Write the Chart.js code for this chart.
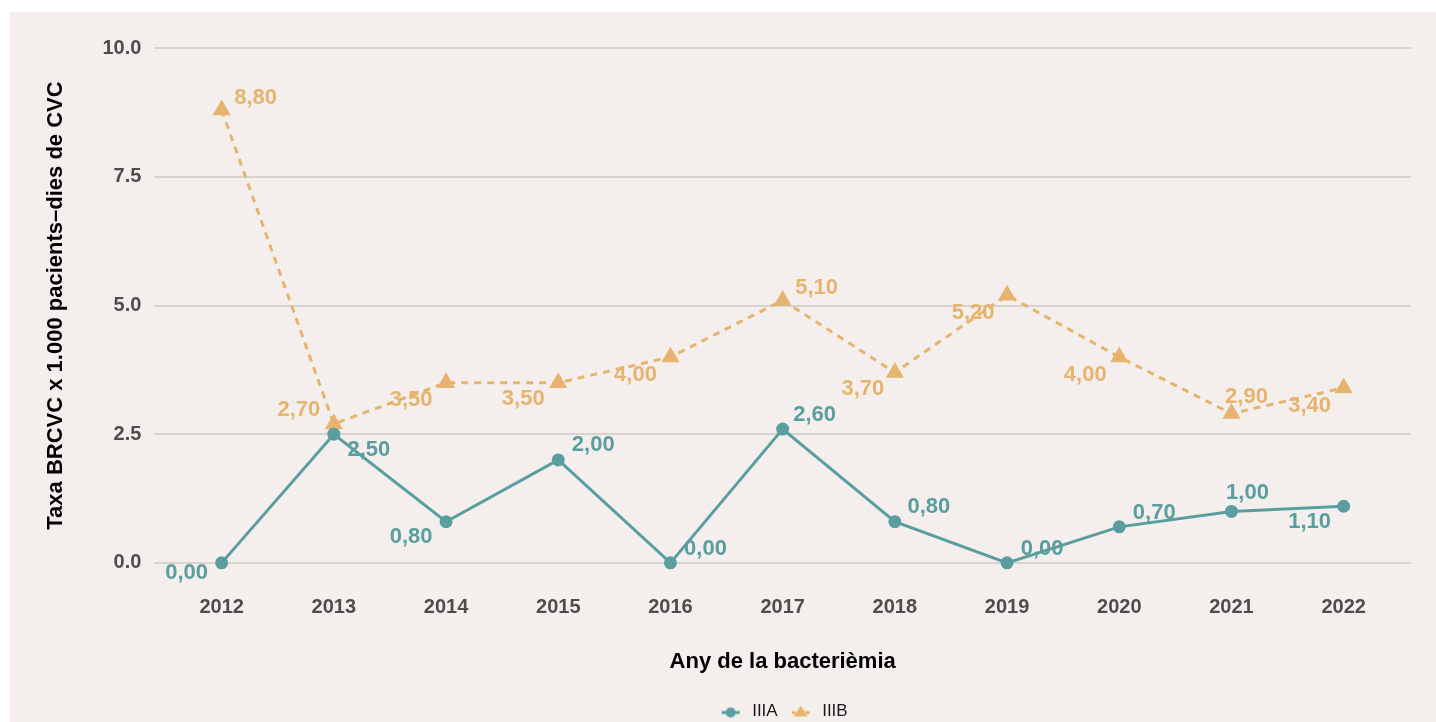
<!DOCTYPE html>
<html>
<head>
<meta charset="utf-8">
<script src="https://cdn.jsdelivr.net/npm/chart.js@4.4.1/dist/chart.umd.min.js"></script>
<style>
  html, body { margin: 0; padding: 0; background: #ffffff; overflow: hidden; }
  #panel { position: absolute; left: 10px; top: 12px; width: 1426px; height: 718px; background: #f4efec; }
</style>
</head>
<body>
<div id="panel"><canvas id="chart"></canvas></div>
<script>
// data
const years = [2012, 2013, 2014, 2015, 2016, 2017, 2018, 2019, 2020, 2021, 2022];
const seriesA = [0.00, 2.50, 0.80, 2.00, 0.00, 2.60, 0.80, 0.00, 0.70, 1.00, 1.10];
const seriesB = [8.80, 2.70, 3.50, 3.50, 4.00, 5.10, 3.70, 5.20, 4.00, 2.90, 3.40];
const yTicks = [0, 2.5, 5, 7.5, 10];

// where each value label sits relative to its point (px)
const labelOffsetsA = [[-35, 10], [35, 16], [-35, 15], [35, -15], [35, -14], [32, -14], [34, -15], [35, -14], [35, -14], [16, -18], [-34, 16]];
const labelOffsetsB = [[34, -12], [-35, -14], [-35, 17], [-35, 16], [-35, 18], [34, -12], [-32, 16], [-34, 18], [-34, 18], [15, -17], [-34, 18]];

const TEAL = '#5a9ea0';
const SAND = '#e6b46e';
const FONT = '"Liberation Sans", Arial, sans-serif';

// legend keys: line through a marker, like the original
function legendKey(color, shape, dashed) {
    const c = document.createElement('canvas');
    c.width = 20; c.height = 16;
    const g = c.getContext('2d');
    g.strokeStyle = color;
    g.fillStyle = color;
    g.lineWidth = 3;
    if (dashed) g.setLineDash([4, 3]);
    g.beginPath(); g.moveTo(1, 9); g.lineTo(19, 9); g.stroke();
    g.setLineDash([]);
    g.beginPath();
    if (shape === 'circle') {
        g.arc(10, 9, 5, 0, Math.PI * 2);
    } else {
        g.moveTo(10, 2); g.lineTo(17, 13); g.lineTo(3, 13); g.closePath();
    }
    g.fill();
    return c;
}

const valueLabels = {
    id: 'valueLabels',
    afterDatasetsDraw(chart) {
        const ctx = chart.ctx;
        ctx.save();
        ctx.font = 'bold 22px ' + FONT;
        ctx.textAlign = 'center';
        ctx.textBaseline = 'middle';
        chart.data.datasets.forEach((ds, i) => {
            const meta = chart.getDatasetMeta(i);
            const offs = ds.labelOffsets;
            ctx.fillStyle = ds.borderColor;
            meta.data.forEach((pt, j) => {
                const txt = ds.data[j].y.toFixed(2).replace('.', ',');
                ctx.fillText(txt, pt.x + offs[j][0], pt.y + offs[j][1]);
            });
        });
        ctx.restore();
    }
};

const toPoints = vals => vals.map((v, i) => ({ x: years[i], y: v }));

// no extra room for edge labels: the axes are expanded already
function noEdgePadding(scale) {
    scale.paddingTop = 0;
    scale.paddingBottom = 0;
    scale.paddingLeft = 0;
    scale.paddingRight = 0;
}

new Chart(document.getElementById('chart'), {
    type: 'line',
    data: {
        datasets: [
            {
                label: 'IIIA',
                data: toPoints(seriesA),
                borderColor: TEAL,
                backgroundColor: TEAL,
                borderWidth: 3,
                pointStyle: 'circle',
                pointRadius: 5,
                pointHoverRadius: 5,
                labelOffsets: labelOffsetsA,
                legendKey: legendKey(TEAL, 'circle', false)
            },
            {
                label: 'IIIB',
                data: toPoints(seriesB),
                borderColor: SAND,
                backgroundColor: SAND,
                borderWidth: 3,
                borderDash: [7, 6],
                pointStyle: 'triangle',
                pointRadius: 7.5,
                pointHoverRadius: 7.5,
                labelOffsets: labelOffsetsB,
                legendKey: legendKey(SAND, 'triangle', true)
            }
        ]
    },
    options: {
        responsive: true,
        maintainAspectRatio: false,
        animation: false,
        layout: { padding: { left: 20, right: 25, top: 10, bottom: 0 } },
        plugins: {
            tooltip: { enabled: false },
            legend: {
                position: 'bottom',
                fullSize: false,
                labels: {
                    usePointStyle: true,
                    pointStyleWidth: 26,
                    color: '#1a1a1a',
                    font: { family: FONT, size: 17 },
                    padding: 10,
                    generateLabels(chart) {
                        return chart.data.datasets.map((ds, i) => ({
                            text: ds.label,
                            pointStyle: ds.legendKey,
                            fillStyle: ds.borderColor,
                            strokeStyle: ds.borderColor,
                            fontColor: '#1a1a1a',
                            lineWidth: 0,
                            hidden: false,
                            datasetIndex: i
                        }));
                    }
                }
            }
        },
        scales: {
            x: {
                type: 'linear',
                min: 2011.4,
                max: 2022.6,
                afterBuildTicks(scale) {
                    scale.ticks = years.map(v => ({ value: v }));
                },
                afterFit: noEdgePadding,
                grid: { display: false, drawTicks: false },
                border: { display: false },
                ticks: {
                    padding: 7,
                    color: '#4d4d4d',
                    font: { family: FONT, size: 20, weight: 'bold' },
                    callback: v => String(v)
                },
                title: {
                    display: true,
                    text: 'Any de la bacterièmia',
                    color: '#000000',
                    font: { family: FONT, size: 22, weight: 'bold' },
                    padding: { top: 22, bottom: 18 }
                }
            },
            y: {
                min: -0.5,
                max: 10.5,
                afterBuildTicks(scale) {
                    scale.ticks = yTicks.map(v => ({ value: v }));
                },
                afterFit: noEdgePadding,
                grid: { color: '#d6d3d1', lineWidth: 2, drawTicks: false },
                border: { display: false },
                ticks: {
                    padding: 13,
                    color: '#4d4d4d',
                    font: { family: FONT, size: 20, weight: 'bold' },
                    callback: v => v.toFixed(1)
                },
                title: {
                    display: true,
                    text: 'Taxa BRCVC x 1.000 pacients–dies de CVC',
                    color: '#000000',
                    font: { family: FONT, size: 22, weight: 'bold' },
                    padding: { top: 13, bottom: 20 }
                }
            }
        }
    },
    plugins: [valueLabels]
});
</script>
</body>
</html>
